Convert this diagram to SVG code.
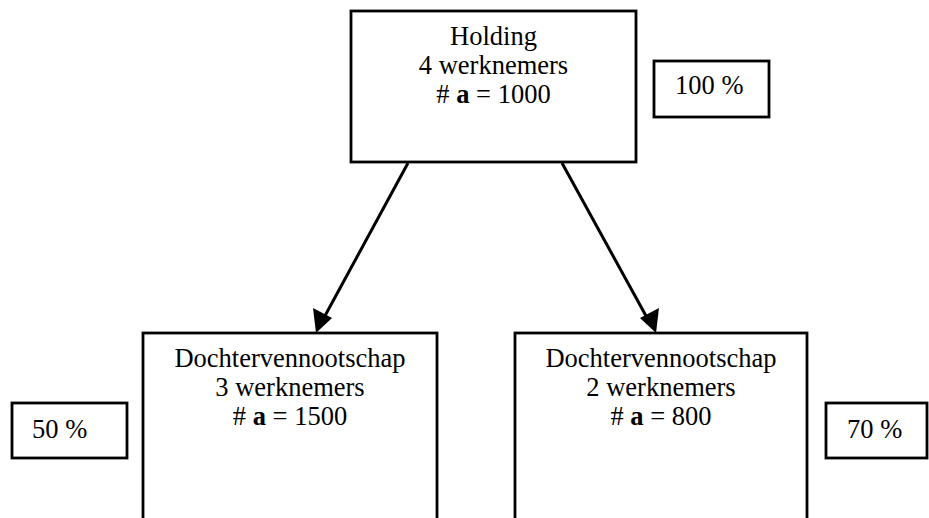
<svg xmlns="http://www.w3.org/2000/svg" width="929" height="518" viewBox="0 0 929 518">
  <style>
    .box { fill: #ffffff; stroke: #000000; stroke-width: 2.8; }
    .lbl { font-family: "Liberation Serif", "Times New Roman", serif; font-size: 26.5px; fill: #000000; }
    .mid { text-anchor: middle; }
    .b { font-weight: bold; }
    .edge { stroke: #000000; stroke-width: 3; fill: none; }
    .tip { fill: #000000; }
  </style>
  <rect width="929" height="518" fill="#ffffff"/>

  <!-- connectors: holding to each subsidiary -->
  <g id="connectors">
    <line class="edge" x1="408" y1="163" x2="320" y2="325"/>
    <polygon class="tip" points="316,333 313,308 332,318"/>
    <line class="edge" x1="562" y1="163" x2="651" y2="325"/>
    <polygon class="tip" points="656,333 640,318 659,308"/>
  </g>

  <!-- parent company -->
  <g id="holding">
    <rect class="box" x="351" y="11" width="285" height="151"/>
    <text class="lbl mid" x="493.5" y="45">Holding</text>
    <text class="lbl mid" x="493.5" y="74">4 werknemers</text>
    <text class="lbl mid" x="493.5" y="103"># <tspan class="b">a</tspan> = 1000</text>
  </g>
  <g id="pct-holding">
    <rect class="box" x="654" y="61" width="115" height="56"/>
    <text class="lbl" x="675" y="94">100 %</text>
  </g>

  <!-- subsidiaries -->
  <g id="dochter-1">
    <rect class="box" x="143" y="333" width="294" height="200"/>
    <text class="lbl mid" x="290" y="367">Dochtervennootschap</text>
    <text class="lbl mid" x="290" y="396">3 werknemers</text>
    <text class="lbl mid" x="290" y="425"># <tspan class="b">a</tspan> = 1500</text>
  </g>
  <g id="pct-dochter-1">
    <rect class="box" x="12" y="403" width="115" height="55"/>
    <text class="lbl" x="32" y="438">50 %</text>
  </g>

  <g id="dochter-2">
    <rect class="box" x="515" y="333" width="292" height="200"/>
    <text class="lbl mid" x="661" y="367">Dochtervennootschap</text>
    <text class="lbl mid" x="661" y="396">2 werknemers</text>
    <text class="lbl mid" x="661" y="425"># <tspan class="b">a</tspan> = 800</text>
  </g>
  <g id="pct-dochter-2">
    <rect class="box" x="826" y="403" width="101" height="55"/>
    <text class="lbl" x="847" y="438">70 %</text>
  </g>
</svg>
